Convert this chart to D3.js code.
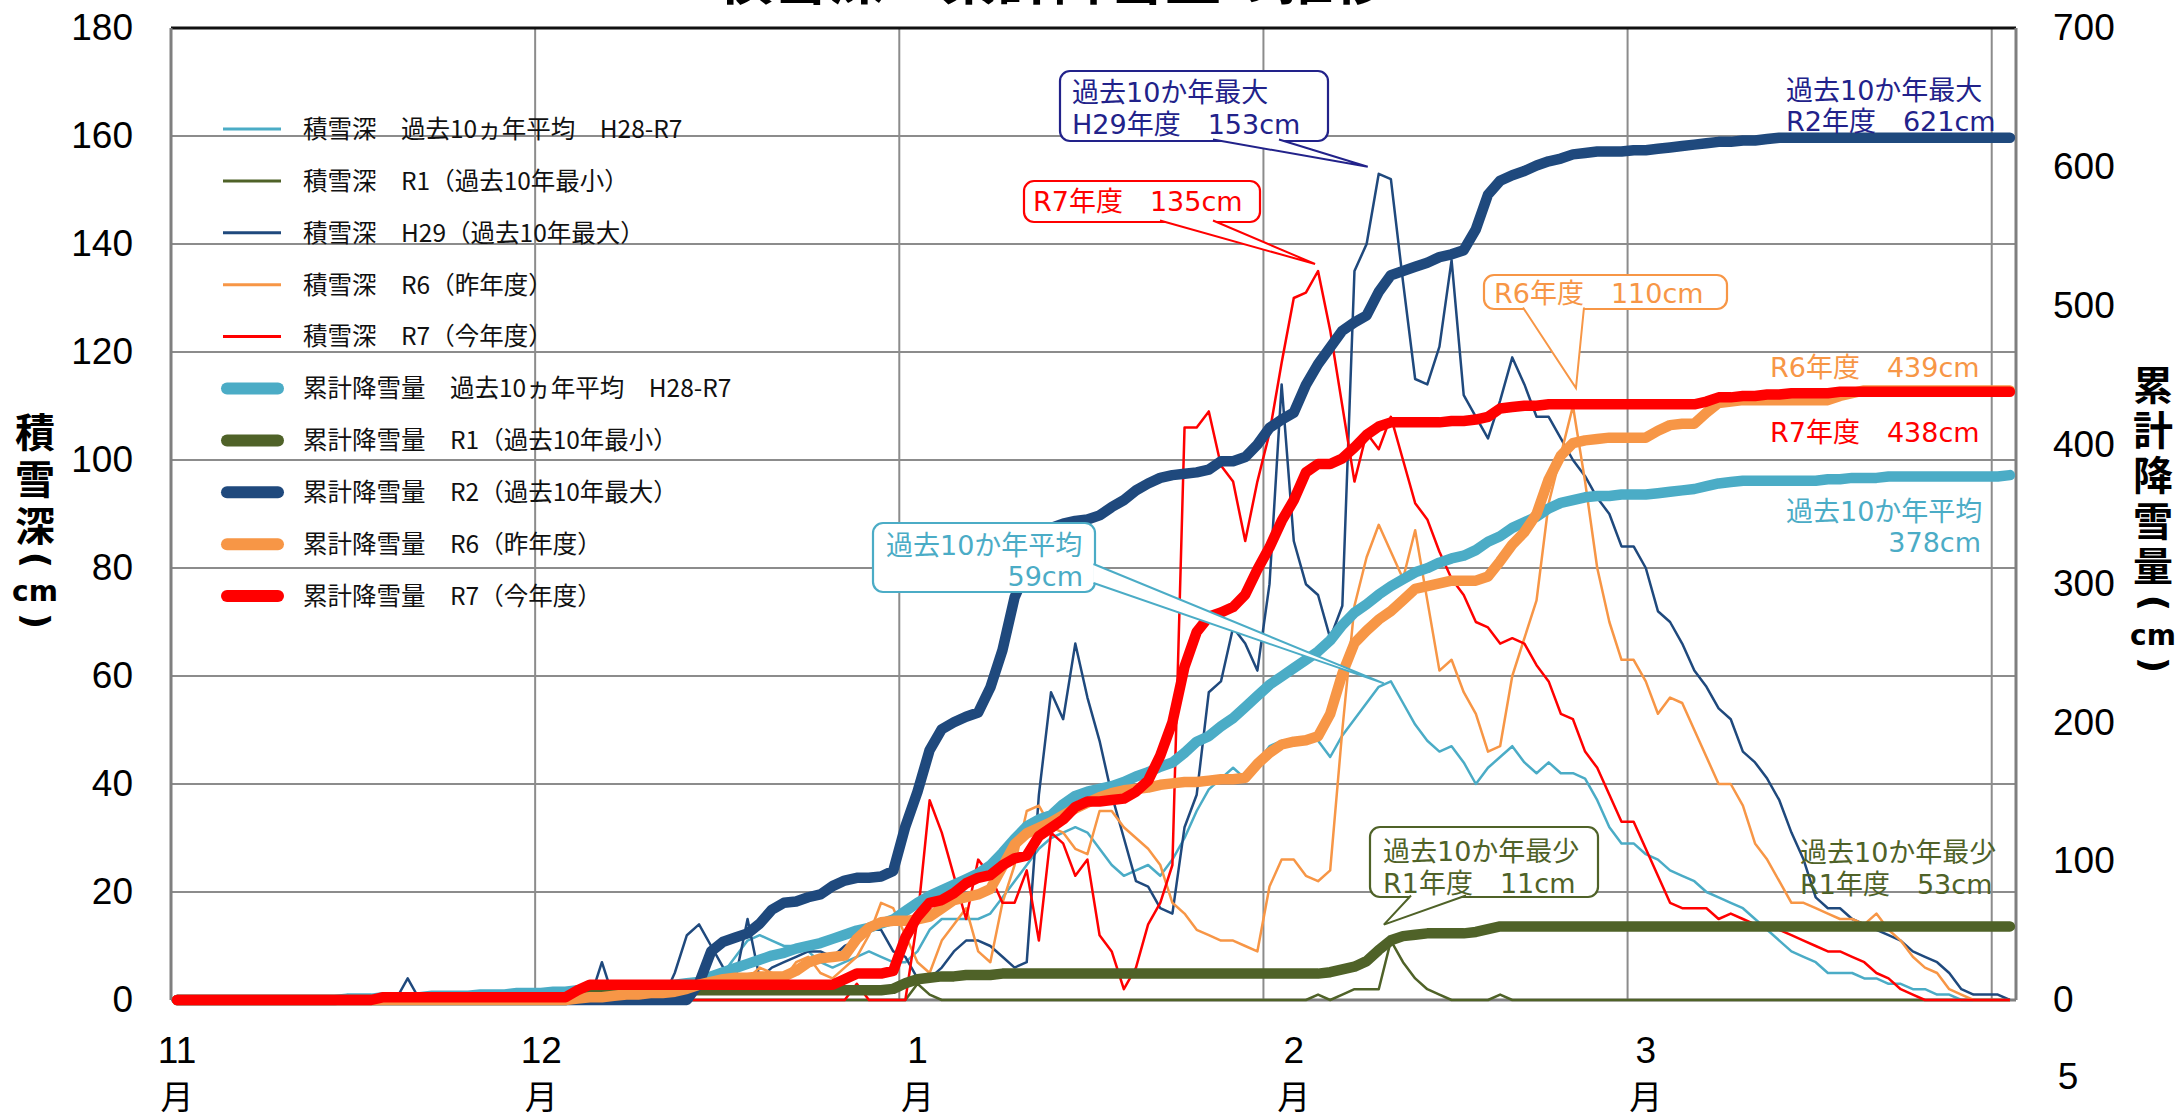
<!DOCTYPE html>
<html>
<head>
<meta charset="utf-8">
<script src="https://cdnjs.cloudflare.com/ajax/libs/d3/7.8.5/d3.min.js"></script>
<style>
  html, body { margin: 0; padding: 0; background: #fff; }
  svg { display: block; }
</style>
</head>
<body>
<svg id="chart" width="2178" height="1118"></svg>
<script>
// ---------------- DATA ----------------
const titleText = "積雪深・累計降雪量の推移";
const monthLabels = ["11", "12", "1", "2", "3"];
const daysInMonth = [30, 31, 31, 29, 31];           // Nov..Mar (152 daily categories)
const depthTicks = [0, 20, 40, 60, 80, 100, 120, 140, 160, 180];
const cumTicks = [0, 100, 200, 300, 400, 500, 600, 700];
const depthAxisTitle = ["積", "雪", "深", "(", "cm", ")"];
const cumAxisTitle = ["累", "計", "降", "雪", "量", "(", "cm", ")"];

const legendLabels = [
  "積雪深　過去10ヵ年平均　H28-R7",
  "積雪深　R1（過去10年最小）",
  "積雪深　H29（過去10年最大）",
  "積雪深　R6（昨年度）",
  "積雪深　R7（今年度）",
  "累計降雪量　過去10ヵ年平均　H28-R7",
  "累計降雪量　R1（過去10年最小）",
  "累計降雪量　R2（過去10年最大）",
  "累計降雪量　R6（昨年度）",
  "累計降雪量　R7（今年度）"
];

// 積雪深 (cm), daily Nov 1 .. Mar 31
const depthAvg = [
  0,0,0,0,0,0,0,0,0,0,
  0,0,0,0,0,0,0,0,0,0,
  0,0,0,0,0,0,0,0,0,0,
  0,0,0,0,0,0,0,0,0,1,
  1,2,2,3,4,5,8,11,12,11,
  10,10,9,7,6,7,8,9,8,7,
  7,9,13,15,15,15,15,16,19,22,
  25,28,30,31,32,31,28,25,23,24,
  25,23,26,30,35,39,41,43,41,44,
  47,48,48,48,48,45,49,52,55,58,
  59,55,51,48,46,47,44,40,43,45,
  47,44,42,44,42,42,41,37,32,29,
  29,27,26,24,23,22,20,19,18,17,
  15,13,11,9,8,7,5,5,5,4,
  4,3,3,2,2,1,1,0,0,0,
  0,0
];
const depthR1 = [
  0,0,0,0,0,0,0,0,0,0,
  0,0,0,0,0,0,0,0,0,0,
  0,0,0,0,0,0,0,0,0,0,
  0,0,0,0,0,0,0,0,0,0,
  0,0,0,0,0,0,0,0,0,0,
  0,0,0,0,0,0,0,0,0,0,
  0,3,1,0,0,0,0,0,0,0,
  0,0,0,0,0,0,0,0,0,0,
  0,0,0,0,0,0,0,0,0,0,
  0,0,0,0,1,0,1,2,2,2,
  11,7,4,2,1,0,0,0,0,1,
  0,0,0,0,0,0,0,0,0,0,
  0,0,0,0,0,0,0,0,0,0,
  0,0,0,0,0,0,0,0,0,0,
  0,0,0,0,0,0,0,0,0,0,
  0,0
];
const depthH29 = [
  0,0,0,0,0,0,0,0,0,0,
  0,0,0,0,0,0,0,0,0,4,
  0,0,0,0,0,0,0,0,0,0,
  0,0,0,0,0,7,0,0,0,0,
  0,5,12,14,10,6,4,15,4,6,
  7,8,9,9,8,10,11,13,13,9,
  8,4,4,6,9,11,11,10,8,6,
  7,38,57,52,66,56,48,38,30,22,
  21,17,16,32,38,57,59,69,66,61,
  77,114,85,77,75,67,73,135,140,153,
  152,133,115,114,121,137,112,108,104,111,
  119,114,108,108,104,100,97,93,90,84,
  84,80,72,70,66,61,58,54,52,46,
  44,41,37,31,26,19,17,17,15,14,
  13,12,11,9,8,7,5,2,1,1,
  1,0
];
const depthR6 = [
  0,0,0,0,0,0,0,0,0,0,
  0,0,0,0,0,0,0,0,0,0,
  0,0,0,0,0,0,0,0,0,0,
  0,0,0,0,0,0,0,0,0,0,
  0,2,3,4,5,3,2,4,6,5,
  4,7,8,5,4,6,8,12,18,17,
  12,7,5,11,14,17,9,7,18,25,
  35,36,32,31,28,27,35,35,32,30,
  28,25,18,16,13,12,11,11,10,9,
  21,26,26,23,22,24,50,73,82,88,
  83,78,87,74,61,63,57,53,46,47,
  60,67,74,92,101,110,96,80,70,63,
  63,59,53,56,55,50,45,40,40,36,
  29,26,22,18,18,17,16,15,15,14,
  16,13,11,8,6,5,2,1,0,0,
  0,0
];
const depthR7 = [
  0,0,0,0,0,0,0,0,0,0,
  0,0,0,0,0,0,0,0,0,0,
  0,0,0,0,0,0,0,0,0,0,
  0,0,0,0,0,0,0,0,0,0,
  0,0,0,0,0,0,0,0,0,0,
  0,0,0,0,0,0,3,0,0,0,
  0,15,37,31,23,15,26,23,18,18,
  24,11,31,29,23,26,12,9,2,6,
  14,18,25,106,106,109,99,96,85,96,
  105,118,130,131,135,124,110,96,105,102,
  108,100,92,89,83,78,75,70,69,66,
  67,66,62,59,53,52,46,43,38,33,
  33,28,23,18,17,17,17,15,16,15,
  14,13,13,12,11,10,9,9,8,7,
  5,4,2,1,0,0,0,0,0,0,
  0,0
];

// 累計降雪量 (cm), daily Nov 1 .. Mar 31
const cumAvg = [
  0,0,0,0,0,0,0,0,0,0,
  0,0,0,0,1,1,1,2,2,2,
  2,3,3,3,3,4,4,4,5,5,
  5,6,6,7,7,8,8,9,9,10,
  10,11,12,13,17,20,23,26,29,32,
  34,37,39,41,44,47,50,52,55,58,
  64,70,75,79,83,87,91,97,106,116,
  125,130,133,141,147,150,152,154,157,161,
  164,168,171,178,186,190,197,203,211,219,
  227,233,239,245,251,259,270,279,285,292,
  298,303,308,311,315,318,320,324,330,334,
  340,344,348,354,358,360,362,363,363,364,
  364,364,365,366,367,368,370,372,373,374,
  374,374,374,374,374,374,375,375,376,376,
  376,377,377,377,377,377,377,377,377,377,
  377,378
];
const cumR1 = [
  0,0,0,0,0,0,0,0,0,0,
  0,0,0,0,0,0,0,0,0,0,
  0,0,0,0,0,0,0,0,0,0,
  0,0,0,3,6,7,7,7,7,7,
  7,7,7,7,7,7,7,7,7,7,
  7,7,7,7,7,7,7,7,7,8,
  12,15,16,17,17,18,18,18,19,19,
  19,19,19,19,19,19,19,19,19,19,
  19,19,19,19,19,19,19,19,19,19,
  19,19,19,19,19,20,22,24,28,36,
  43,46,47,48,48,48,48,49,51,53,
  53,53,53,53,53,53,53,53,53,53,
  53,53,53,53,53,53,53,53,53,53,
  53,53,53,53,53,53,53,53,53,53,
  53,53,53,53,53,53,53,53,53,53,
  53,53
];
const cumR2 = [
  0,0,0,0,0,0,0,0,0,0,
  0,0,0,0,0,0,0,0,0,0,
  0,0,0,0,0,0,0,0,0,0,
  0,0,0,0,0,0,0,0,0,0,
  0,0,0,12,35,42,45,48,55,65,
  70,71,74,76,82,86,88,88,89,93,
  125,150,180,195,200,204,207,225,252,290,
  310,330,340,343,345,346,349,355,360,367,
  372,376,378,379,380,382,388,388,391,400,
  412,418,423,443,458,470,482,488,493,510,
  522,525,528,531,535,537,540,555,580,590,
  594,597,601,604,606,609,610,611,611,611,
  612,612,613,614,615,616,617,618,618,619,
  619,620,621,621,621,621,621,621,621,621,
  621,621,621,621,621,621,621,621,621,621,
  621,621
];
const cumR6 = [
  0,0,0,0,0,0,0,0,0,0,
  0,0,0,0,0,0,0,0,0,0,
  0,0,0,0,0,0,0,0,0,0,
  0,0,0,1,2,2,3,4,4,5,
  5,6,8,11,13,15,16,16,17,17,
  17,21,27,30,31,32,44,52,56,57,
  57,58,60,66,72,74,76,80,96,112,
  120,124,128,133,138,142,146,149,151,152,
  153,155,156,157,157,158,159,159,160,170,
  178,184,186,187,190,206,235,257,266,274,
  280,288,296,298,300,302,302,302,305,316,
  328,337,350,375,392,401,403,404,405,405,
  405,405,410,414,415,415,423,430,431,432,
  432,432,432,432,432,432,432,435,437,439,
  439,439,439,439,439,439,439,439,439,439,
  439,439
];
const cumR7 = [
  0,0,0,0,0,0,0,0,0,0,
  0,0,0,0,0,0,0,2,2,2,
  2,2,2,2,2,2,2,2,2,2,
  2,2,2,7,11,11,11,11,11,11,
  11,11,11,11,11,11,11,11,11,11,
  11,11,11,11,11,15,19,19,19,21,
  45,60,70,72,77,84,88,90,97,102,
  104,118,124,130,139,143,143,144,145,150,
  158,176,200,240,265,276,279,283,292,310,
  326,345,360,380,386,386,390,398,407,413,
  416,416,416,416,416,417,417,418,420,426,
  427,428,428,429,429,429,429,429,429,429,
  429,429,429,429,429,429,431,434,434,435,
  435,436,436,437,437,437,437,438,438,438,
  438,438,438,438,438,438,438,438,438,438,
  438,438
];

// ---------------- LAYOUT ----------------
const plot = { left: 171, right: 2016, top: 28, bottom: 1000 };
const nDays = d3.sum(daysInMonth);
const x = d3.scaleLinear().domain([0, nDays]).range([plot.left, plot.right]);
const px = i => x(i + 0.5);                         // category centre
const yL = d3.scaleLinear().domain([0, 180]).range([plot.bottom, plot.top]);
const yR = d3.scaleLinear().domain([0, 700]).range([plot.bottom, plot.top]);

const C = {
  navy: "#1F497D", aqua: "#4BACC6", olive: "#4F6228",
  orange: "#F79646", red: "#FF0000", grid: "#8C8C8C", axis: "#7F7F7F",
  noteNavy: "#22228A"
};
const cjk = "'Noto Sans CJK JP', 'Noto Sans', sans-serif";
const noteFont = "'DejaVu Sans', 'Noto Sans CJK JP', sans-serif";
const numFont = "'Liberation Sans', Arial, sans-serif";
const latinBold = "'DejaVu Sans', sans-serif";

const series = [
  { values: depthAvg, scale: yL, color: C.aqua,   width: 2.5 },
  { values: depthR1,  scale: yL, color: C.olive,  width: 2.5 },
  { values: depthH29, scale: yL, color: C.navy,   width: 2.5 },
  { values: depthR6,  scale: yL, color: C.orange, width: 2.5 },
  { values: depthR7,  scale: yL, color: C.red,    width: 2.5 },
  { values: cumAvg,   scale: yR, color: C.aqua,   width: 10.5 },
  { values: cumR1,    scale: yR, color: C.olive,  width: 10.5 },
  { values: cumR2,    scale: yR, color: C.navy,   width: 10.5 },
  { values: cumR6,    scale: yR, color: C.orange, width: 10.5 },
  { values: cumR7,    scale: yR, color: C.red,    width: 10.5 }
];

const svg = d3.select("#chart");

// Title (cut off at the top edge as in the reference)
svg.append("text")
  .attr("x", 1053).attr("y", -1)
  .attr("text-anchor", "middle")
  .attr("font-family", cjk).attr("font-size", 56).attr("font-weight", "bold")
  .attr("fill", "#000")
  .text(titleText);

// Grid
const grid = svg.append("g");
grid.selectAll("line.h")
  .data(depthTicks.filter(t => t > 0 && t < 180))
  .join("line").attr("class", "h")
  .attr("x1", plot.left).attr("x2", plot.right)
  .attr("y1", d => yL(d)).attr("y2", d => yL(d))
  .attr("stroke", C.grid).attr("stroke-width", 2);
grid.selectAll("line.v")
  .data(d3.range(30, nDays, 30))
  .join("line").attr("class", "v")
  .attr("x1", d => x(d)).attr("x2", d => x(d))
  .attr("y1", plot.top).attr("y2", plot.bottom)
  .attr("stroke", C.grid).attr("stroke-width", 2);
// frame
grid.append("line").attr("x1", plot.left).attr("x2", plot.right)
  .attr("y1", plot.top).attr("y2", plot.top).attr("stroke", "#111").attr("stroke-width", 3);
grid.append("line").attr("x1", plot.left).attr("x2", plot.left)
  .attr("y1", plot.top).attr("y2", plot.bottom).attr("stroke", C.axis).attr("stroke-width", 3);
grid.append("line").attr("x1", plot.right).attr("x2", plot.right)
  .attr("y1", plot.top).attr("y2", plot.bottom).attr("stroke", C.axis).attr("stroke-width", 3);
grid.append("line").attr("x1", plot.left).attr("x2", plot.right)
  .attr("y1", plot.bottom).attr("y2", plot.bottom).attr("stroke", C.axis).attr("stroke-width", 3);

// Series
const lines = svg.append("g");
series.forEach(s => {
  const gen = d3.line().x((v, i) => px(i)).y(v => s.scale(v));
  lines.append("path")
    .attr("d", gen(s.values))
    .attr("fill", "none")
    .attr("stroke", s.color)
    .attr("stroke-width", s.width)
    .attr("stroke-linejoin", "round")
    .attr("stroke-linecap", s.width > 5 ? "round" : "butt");
});

// Axes
const axL = svg.append("g").attr("transform", `translate(${plot.left},0)`)
  .call(d3.axisLeft(yL).tickValues(depthTicks).tickSize(0).tickPadding(38));
axL.select(".domain").remove();
axL.selectAll("text").attr("font-family", numFont).attr("font-size", 37).attr("fill", "#000");

const axR = svg.append("g").attr("transform", `translate(${plot.right},0)`)
  .call(d3.axisRight(yR).tickValues(cumTicks).tickSize(0).tickPadding(37));
axR.select(".domain").remove();
axR.selectAll("text").attr("font-family", numFont).attr("font-size", 37).attr("fill", "#000");

// Month labels
const monthStarts = daysInMonth.map((d, i) => d3.sum(daysInMonth.slice(0, i)));
const mg = svg.append("g");
monthLabels.forEach((m, i) => {
  const cx = px(monthStarts[i]);
  mg.append("text").attr("x", cx).attr("y", 1050).attr("dy", "0.35em")
    .attr("text-anchor", "middle").attr("font-family", numFont).attr("font-size", 37)
    .text(m);
  mg.append("text").attr("x", cx).attr("y", 1097).attr("dy", "0.35em")
    .attr("text-anchor", "middle").attr("font-family", cjk).attr("font-size", 33)
    .text("月");
});
mg.append("text").attr("x", 2068).attr("y", 1076).attr("dy", "0.35em")
  .attr("text-anchor", "middle").attr("font-family", numFont).attr("font-size", 37)
  .text("5");

// Axis titles: one text element each, glyphs stacked vertically,
// brackets turned 90° as in vertical writing.
function stackTitle(chars, cx, ys) {
  const t = svg.append("text").attr("font-weight", "bold").attr("fill", "#000");
  chars.forEach((c, i) => {
    const cy = ys[i];
    const sp = t.append("tspan").text(c);
    if (c === "(" || c === ")") {
      const fs = 36;
      sp.attr("font-family", latinBold).attr("font-size", fs)
        .attr("x", cx - 0.315 * fs).attr("y", cy - 0.23 * fs)
        .attr("rotate", 90).attr("text-anchor", "start");
    } else if (c === "cm") {
      sp.attr("font-family", latinBold).attr("font-size", 28)
        .attr("x", cx).attr("y", cy + 8).attr("text-anchor", "middle");
    } else {
      sp.attr("font-family", cjk).attr("font-size", 40)
        .attr("x", cx).attr("y", cy + 14).attr("text-anchor", "middle");
    }
  });
}
stackTitle(depthAxisTitle, 35, [433, 480, 527, 560, 593, 621]);
stackTitle(cumAxisTitle, 2153, [386, 431, 476, 522, 567, 603, 637, 665]);

// Legend
const lg = svg.append("g");
legendLabels.forEach((label, i) => {
  const s = series[i];
  const y = 129 + i * 51.9;
  const thick = s.width > 5;
  lg.append("line")
    .attr("x1", thick ? 227 : 223).attr("x2", thick ? 278 : 281)
    .attr("y1", y).attr("y2", y)
    .attr("stroke", s.color).attr("stroke-width", thick ? 12 : 3)
    .attr("stroke-linecap", thick ? "round" : "butt");
  lg.append("text").attr("x", 303).attr("y", y).attr("dy", "0.36em")
    .attr("font-family", cjk).attr("font-size", 24.5).attr("fill", "#111")
    .text(label);
});

// Callouts
const notes = svg.append("g").attr("font-family", noteFont).attr("font-size", 27);
function callout(o) {
  const g = notes.append("g");
  g.append("rect").attr("x", o.box[0]).attr("y", o.box[1])
    .attr("width", o.box[2]).attr("height", o.box[3]).attr("rx", 10)
    .attr("fill", "#fff").attr("stroke", o.stroke).attr("stroke-width", 2.2);
  if (o.tip) {
    const [a, b, t] = [o.base[0], o.base[1], o.tip];
    g.append("path").attr("d", `M${a[0]},${a[1]}L${t[0]},${t[1]}L${b[0]},${b[1]}Z`)
      .attr("fill", "#fff").attr("stroke", "none");
    g.append("path").attr("d", `M${a[0]},${a[1]}L${t[0]},${t[1]}L${b[0]},${b[1]}`)
      .attr("fill", "none").attr("stroke", o.stroke).attr("stroke-width", 2)
      .attr("stroke-linejoin", "miter");
  }
  o.lines.forEach(l => {
    g.append("text").attr("x", l.x).attr("y", l.y)
      .attr("text-anchor", l.anchor || "start").attr("fill", o.color).text(l.t);
  });
}
function note(color, lines) {
  lines.forEach(l => notes.append("text").attr("x", l.x).attr("y", l.y)
    .attr("text-anchor", l.anchor || "start").attr("fill", color).text(l.t));
}

const iH29 = depthH29.indexOf(d3.max(depthH29));
const iR7 = depthR7.indexOf(d3.max(depthR7));
const iR6 = depthR6.indexOf(d3.max(depthR6));
const iAvg = depthAvg.indexOf(d3.max(depthAvg));
const iR1 = depthR1.indexOf(d3.max(depthR1));

callout({
  box: [1060, 71, 268, 70], stroke: C.noteNavy, color: C.noteNavy,
  base: [[1213, 139.5], [1279, 139.5]], tip: [px(iH29) - 11, yL(d3.max(depthH29)) - 7],
  lines: [{ x: 1072, y: 102, t: "過去10か年最大" }, { x: 1072, y: 134, t: "H29年度　153cm" }]
});
callout({
  box: [1024, 181, 236, 41], stroke: C.red, color: C.red,
  base: [[1160, 220.5], [1213, 220.5]], tip: [px(iR7) - 3, yL(d3.max(depthR7)) - 7],
  lines: [{ x: 1033, y: 211, t: "R7年度　135cm" }]
});
callout({
  box: [873, 523, 222, 69], stroke: C.aqua, color: C.aqua,
  base: [[1093.5, 564], [1093.5, 583]], tip: [px(iAvg) - 7, yL(d3.max(depthAvg)) + 2],
  lines: [{ x: 886, y: 555, t: "過去10か年平均" }, { x: 1083, y: 586, t: "59cm", anchor: "end" }]
});
callout({
  box: [1484, 275, 243, 34], stroke: C.orange, color: C.orange,
  base: [[1523, 307.5], [1584, 307.5]], tip: [px(iR6) + 3, yL(d3.max(depthR6)) - 18],
  lines: [{ x: 1494, y: 303, t: "R6年度　110cm" }]
});
callout({
  box: [1370, 827, 228, 70], stroke: C.olive, color: C.olive,
  base: [[1411, 895.5], [1466, 895.5]], tip: [px(iR1) - 7, yL(d3.max(depthR1)) - 16],
  lines: [{ x: 1383, y: 861, t: "過去10か年最少" }, { x: 1383, y: 893, t: "R1年度　11cm" }]
});

// Right-hand labels for cumulative totals
note(C.noteNavy, [{ x: 1786, y: 100, t: "過去10か年最大" }, { x: 1786, y: 131, t: "R2年度　621cm" }]);
note(C.orange, [{ x: 1770, y: 377, t: "R6年度　439cm" }]);
note(C.red, [{ x: 1770, y: 442, t: "R7年度　438cm" }]);
note(C.aqua, [{ x: 1786, y: 521, t: "過去10か年平均" }, { x: 1981, y: 552, t: "378cm", anchor: "end" }]);
note(C.olive, [{ x: 1800, y: 862, t: "過去10か年最少" }, { x: 1800, y: 894, t: "R1年度　53cm" }]);
</script>
</body>
</html>
